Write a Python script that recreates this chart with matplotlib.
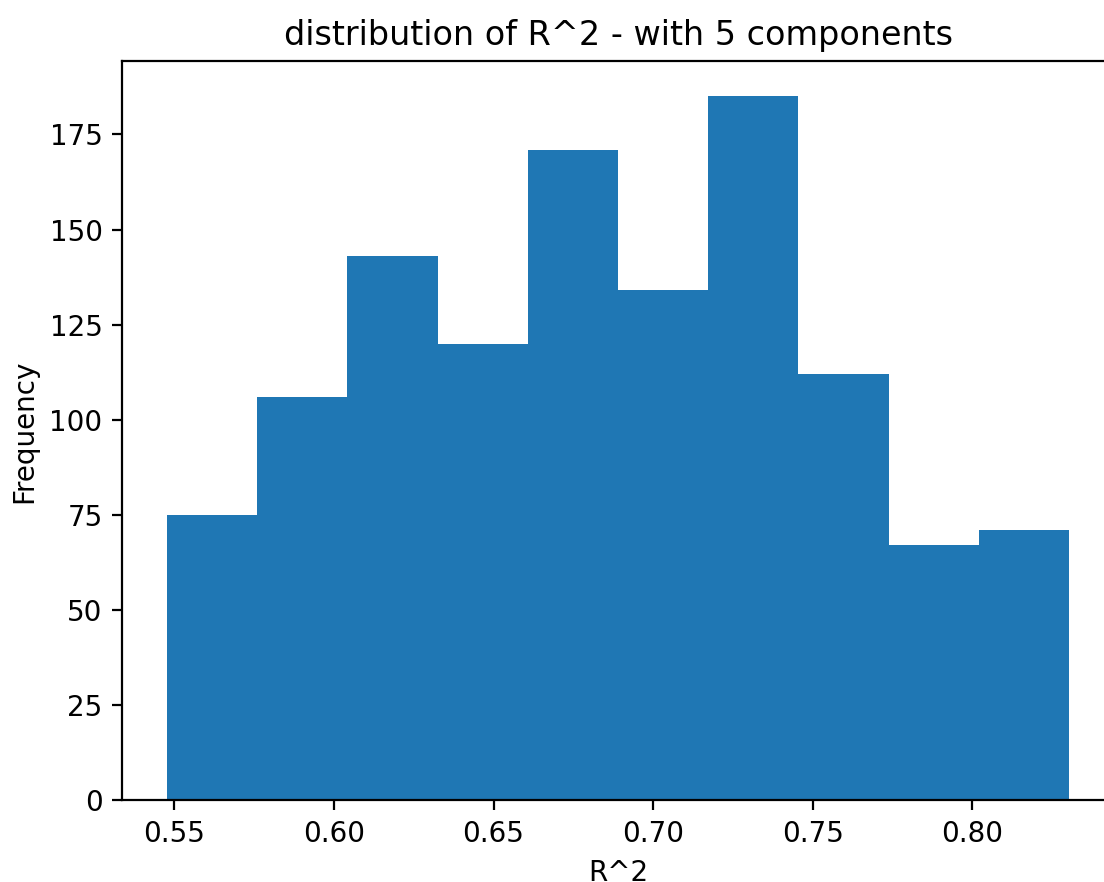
import numpy as np
from matplotlib import pyplot as plt

# histogram
lo = 0.5477
hi = 0.8303
counts = [75, 106, 143, 120, 171, 134, 185, 112, 67, 71]
edges = np.linspace(lo, hi, len(counts) + 1)

fig = plt.figure(figsize=(5.52, 4.41), dpi=200)
ax = fig.add_axes([0.1105, 0.0925, 0.8986, 0.8381])
ax.hist(edges[:-1], bins=edges, weights=counts)
ax.set_xlabel("R^2")
ax.set_ylabel("Frequency")
ax.set_title("distribution of R^2 - with 5 components")
fig.savefig("out.png", dpi=200)
